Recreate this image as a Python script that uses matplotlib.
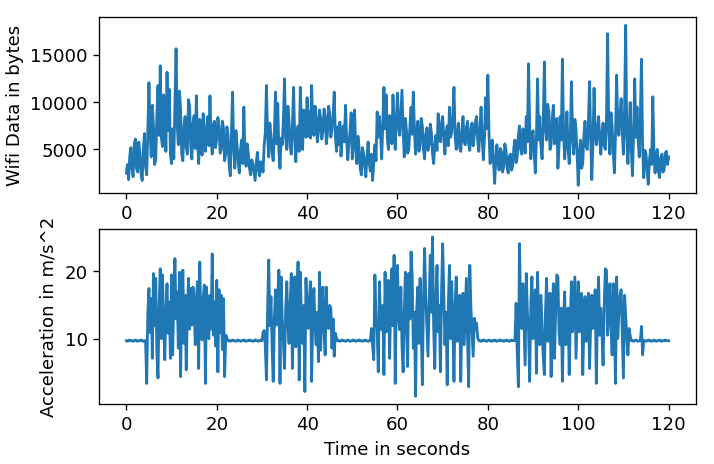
import numpy as np
import matplotlib
matplotlib.use("Agg")
import matplotlib.pyplot as plt

plt.rcParams["font.size"] = 11

# wifi traffic, one sample every 0.25 s (0 .. 120 s), 20 samples per row = 5 s
wifi_step = 0.25
wifi_bytes = [
    2500, 3400, 1800, 4300, 5200, 2900, 2100, 5600, 6100, 3000, 2600, 5800, 4500, 2400, 1700, 4900, 6700, 3200, 2300, 6900,       # 0 s
    12100, 6800, 4200, 9700, 7500, 3400, 3900, 8700, 11800, 6500, 13900, 6200, 5300, 10800, 9500, 4800, 13200, 7000, 11400, 4500, # 5 s
    3500, 7200, 4000, 9800, 15700, 7600, 5500, 11200, 9200, 4500, 3800, 7400, 8500, 5200, 4500, 10300, 9600, 5400, 4000, 7800,     # 10 s
    8600, 5100, 10700, 6000, 3500, 8200, 7000, 4400, 8800, 6000, 4800, 7300, 8500, 5400, 10700, 6200, 4500, 7600, 8000, 5200,      # 15 s
    6200, 8400, 7500, 4600, 5000, 8000, 7200, 3800, 4500, 7400, 6500, 3300, 2200, 6700, 11100, 5200, 3000, 7000, 5500, 3600,       # 20 s
    2500, 4900, 6000, 3500, 9500, 4200, 3200, 5600, 4500, 3000, 2300, 3900, 3500, 2600, 1700, 3600, 4700, 2800, 2200, 3700,        # 25 s
    3500, 2600, 5500, 6800, 11800, 6500, 4200, 7800, 6500, 4600, 3800, 6700, 11100, 5600, 9900, 4800, 3000, 6200, 5500, 8200,      # 30 s
    12500, 6200, 5000, 9600, 8000, 5300, 4500, 7600, 11600, 6400, 3700, 6600, 7500, 4800, 11600, 7200, 5000, 9200, 8500, 6300,     # 35 s
    10500, 6400, 9000, 6200, 11800, 7800, 6500, 9600, 8500, 5800, 6800, 9200, 8300, 6100, 7000, 9300, 8500, 5600, 6700, 9600,      # 40 s
    8800, 6300, 7200, 8600, 11100, 6400, 4800, 7400, 5500, 7900, 4300, 6200, 7500, 5800, 9700, 6000, 3900, 5600, 7000, 8900,       # 45 s
    4000, 6100, 9200, 5000, 3500, 6400, 5200, 3000, 2300, 5200, 4500, 3200, 2100, 4300, 5800, 3500, 2700, 4500, 1700, 3600,        # 50 s
    5500, 3800, 9000, 6300, 8500, 6700, 4000, 7600, 11600, 7200, 10800, 6200, 5000, 8600, 7500, 5600, 10800, 7400, 5000, 8200,     # 55 s
    11000, 7400, 6500, 9000, 11300, 7000, 4200, 8300, 7000, 4600, 5000, 7400, 9500, 6600, 11100, 7200, 4500, 6800, 8000, 4800,     # 60 s
    5500, 8300, 7500, 5000, 4000, 6600, 7300, 4900, 5500, 7700, 6800, 4600, 3500, 5400, 6500, 4900, 8800, 6300, 5800, 7800,        # 65 s
    8500, 6100, 4500, 6800, 7500, 5400, 9500, 6300, 6800, 8600, 11600, 6500, 5000, 6800, 7800, 5200, 4800, 6900, 8500, 5800,       # 70 s
    5500, 7300, 8000, 5600, 4900, 7200, 7800, 5400, 6500, 7900, 8500, 5900, 4800, 7300, 9500, 6000, 3900, 6200, 10500, 7200,       # 75 s
    12900, 6800, 3500, 5200, 6000, 3600, 1400, 3800, 5500, 3600, 2800, 5100, 4800, 2600, 3200, 5600, 5000, 3100, 2500, 4300,       # 80 s
    4500, 2800, 3300, 5200, 6000, 3600, 4200, 6500, 7500, 5000, 4500, 7200, 6800, 4600, 8500, 5800, 14100, 7500, 4000, 6200,       # 85 s
    7000, 4600, 2500, 6200, 12500, 6000, 8500, 5400, 4000, 7500, 14300, 7400, 6000, 9800, 9000, 5000, 5500, 8400, 9700, 5600,      # 90 s
    6200, 8300, 3000, 5400, 8500, 6000, 14600, 6800, 4000, 6300, 9000, 5100, 3500, 6400, 12200, 6600, 4500, 8200, 7200, 4600,      # 95 s
    1200, 4300, 6000, 3000, 3500, 6500, 8000, 5300, 5000, 7800, 12200, 6400, 1800, 5600, 11500, 6800, 5500, 7200, 8500, 6000,      # 100 s
    4500, 6800, 7800, 5400, 5000, 8200, 17300, 7200, 4500, 8900, 7500, 4600, 2500, 6600, 12900, 7300, 6500, 8800, 10400, 6800,     # 105 s
    4500, 9200, 18200, 6300, 3500, 7000, 10000, 4900, 2200, 6700, 12500, 6300, 9500, 6100, 4200, 8800, 14600, 5200, 2000, 4900,    # 110 s
    4500, 2800, 1300, 3800, 5000, 3400, 10600, 4800, 2500, 4400, 5000, 2700, 2000, 4100, 4500, 2600, 2800, 4600, 4800, 3400,       # 115 s
    4200,                                                                                                                          # 120 s
]

# accelerometer magnitude, one sample every 0.25 s, split into idle / walk parts
acc_step = 0.25
idle_0 = [9.8, 9.7, 9.8, 9.9, 9.8, 9.8, 9.7, 9.8, 9.9, 9.8, 9.7, 9.8,
          9.8, 9.9, 9.8, 9.7, 9.8, 9.8]
walk_1 = [3.5, 14.0, 17.5, 11.0, 16.0, 7.2, 19.7, 12.0,
          19.0, 8.0, 4.3, 15.0, 20.4, 10.1, 19.5, 12.0,
          7.0, 14.0, 18.2, 10.9, 15.5, 7.2, 19.5, 7.7,
          16.0, 21.9, 13.0, 17.0, 8.7, 19.9, 4.5, 15.0,
          20.2, 9.4, 16.5, 5.5, 14.0, 19.0, 11.5, 17.5,
          12.1, 17.7, 15.0, 9.2, 16.0, 18.5, 5.7, 21.4,
          12.0, 9.9, 16.0, 18.0, 3.5, 17.7, 12.5, 10.1,
          16.5, 11.5, 22.6, 10.6, 15.5, 9.0, 18.7, 5.2,
          17.3, 11.0, 16.5, 8.5, 16.0, 4.5, 10.6, 10.2,
          9.8]
idle_1 = [9.8, 9.7, 9.8, 9.9, 9.8, 9.8, 9.7, 9.8, 9.9, 9.8,
          9.7, 9.8, 9.8, 9.9, 9.8, 9.7, 9.8, 9.8, 9.9, 9.8,
          9.8, 9.7, 9.8, 9.9, 9.8, 9.8, 9.7, 9.8, 9.9, 9.8]
walk_2 = [11.0, 11.3, 9.0, 4.0, 14.0, 21.7, 12.0, 16.3,
          9.0, 3.8, 13.0, 17.3, 12.1, 16.0, 20.2, 3.5,
          19.2, 13.0, 9.7, 5.7, 14.0, 18.5, 12.5, 9.4,
          15.0, 19.7, 5.7, 14.5, 19.2, 8.9, 16.0, 21.4,
          4.0, 19.9, 13.0, 9.4, 15.0, 2.3, 19.0, 13.0,
          11.6, 16.0, 18.5, 3.8, 13.0, 17.5, 12.0, 9.2,
          14.0, 6.7, 19.9, 8.4, 15.0, 17.7, 11.0, 7.7,
          17.7, 12.0, 11.6, 15.0, 14.6, 8.7, 13.0, 7.5,
          10.9, 10.2, 9.8]
idle_2 = [9.8, 9.7, 9.8, 9.9, 9.8, 9.8, 9.7, 9.8, 9.9, 9.8,
          9.7, 9.8, 9.8, 9.9, 9.8, 9.7, 9.8, 9.8, 9.9, 9.8,
          9.8, 9.7, 9.8, 9.9, 9.8, 9.8, 9.7, 9.8, 9.8]
walk_3 = [11.6, 9.0, 7.0, 19.5, 13.0, 11.6, 5.2, 18.5,
          13.0, 11.4, 15.0, 4.8, 19.9, 11.1, 15.5, 18.7,
          7.2, 15.0, 20.4, 12.0, 22.4, 3.5, 16.0, 20.9,
          13.0, 11.4, 17.7, 9.0, 5.2, 14.0, 19.9, 12.0,
          6.0, 19.7, 13.0, 22.9, 19.5, 8.7, 14.0, 1.6,
          14.5, 17.7, 9.4, 19.0, 12.0, 3.3, 16.0, 23.4,
          16.5, 12.0, 7.5, 15.0, 22.4, 14.0, 25.1, 12.0,
          5.7, 16.0, 20.9, 11.1, 15.0, 5.2, 17.0, 24.1,
          16.5, 9.2, 14.0, 3.3, 15.0, 20.9, 10.1, 18.5,
          12.0, 3.8, 15.0, 19.2, 9.7, 14.0, 16.5, 3.8,
          13.0, 16.8, 9.2, 14.0, 19.0, 10.0, 3.0, 20.9,
          14.6, 11.0, 7.5, 13.1, 11.5, 12.4, 10.2, 9.8]
idle_3 = [9.8, 9.7, 9.8, 9.9, 9.8, 9.8, 9.7, 9.8, 9.9, 9.8,
          9.7, 9.8, 9.8, 9.9, 9.8, 9.7, 9.8, 9.8, 9.9, 9.8,
          9.8, 9.7, 9.8, 9.9, 9.8, 9.8, 9.7, 9.8, 9.9, 9.8, 9.8]
walk_4 = [9.8, 15.3, 8.0, 3.0, 24.1, 14.0, 11.6, 18.2,
          12.0, 6.2, 19.7, 14.0, 11.4, 3.8, 15.0, 19.2,
          10.1, 14.0, 17.3, 5.0, 19.9, 12.0, 9.2, 16.5,
          12.0, 7.5, 4.8, 14.0, 19.0, 9.7, 14.0, 16.8,
          4.5, 13.0, 18.2, 7.2, 14.0, 19.5, 19.2, 11.0,
          9.2, 14.6, 3.8, 13.0, 17.0, 9.2, 13.0, 14.6,
          4.8, 13.0, 18.5, 11.1, 15.0, 19.2, 7.2, 13.0,
          18.5, 11.1, 14.0, 16.8, 4.8, 12.0, 16.3, 9.7,
          13.0, 16.8, 5.7, 12.0, 16.5, 11.6, 14.0, 17.3,
          3.5, 14.0, 19.2, 10.6, 14.6, 11.0, 6.2, 15.0,
          20.4, 20.2, 10.6, 14.0, 18.2, 12.0, 7.7, 18.2,
          12.0, 3.5, 19.2, 10.1, 14.0, 16.5, 17.3, 11.0,
          4.3, 16.5, 13.6, 10.0, 7.7, 11.6, 10.5, 9.8,
          9.8, 9.7, 9.8, 9.9, 9.8, 9.7, 9.8, 9.8,
          11.9, 7.7, 9.8]
idle_4 = [9.8, 9.7, 9.8, 9.9, 9.8, 9.8, 9.7, 9.8, 9.9, 9.8, 9.7,
          9.8, 9.8, 9.9, 9.8, 9.7, 9.8, 9.8, 9.9, 9.8, 9.8, 9.8]

acc_starts = [0.0, 4.5, 22.75, 30.25, 47.0, 54.25, 78.25, 86.0, 114.75]
acc_parts = [idle_0, walk_1, idle_1, walk_2, idle_2, walk_3, idle_3, walk_4, idle_4]

wifi_t = np.arange(len(wifi_bytes)) * wifi_step
acc_t = np.concatenate([s + acc_step * np.arange(len(p)) for s, p in zip(acc_starts, acc_parts)])
acc_v = np.concatenate([np.array(p) for p in acc_parts])

fig = plt.figure(figsize=(6.0, 3.9))
ax1 = fig.add_axes([0.139, 0.5834, 0.8354, 0.3793])
ax2 = fig.add_axes([0.139, 0.1287, 0.8354, 0.3778])

ax1.plot(wifi_t, wifi_bytes, color="tab:blue", linewidth=1.7)
ax1.set_ylabel("Wifi Data in bytes")

ax2.plot(acc_t, acc_v, color="tab:blue", linewidth=1.7)
ax2.set_ylabel("Acceleration in m/s^2")
ax2.set_xlabel("Time in seconds")

ax1.set_xticks([0, 20, 40, 60, 80, 100, 120])
ax2.set_xticks([0, 20, 40, 60, 80, 100, 120])

fig.savefig("out.png", dpi=119)
